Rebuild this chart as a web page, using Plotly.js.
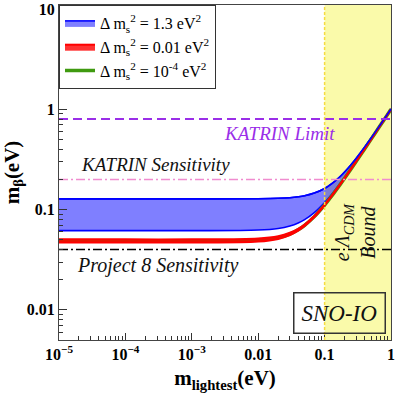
<!DOCTYPE html>
<html>
<head>
<meta charset="utf-8">
<script src="https://cdn.plot.ly/plotly-3.0.1.min.js"></script>
<style>
  html, body { margin: 0; padding: 0; background: #fff; }
  #chart { width: 399px; height: 399px; }
</style>
</head>
<body>
<div id="chart"></div>
<script>
// m_lightest (eV)
const mLightest = [1e-5, 1e-4, 1e-3, 0.01, 0.02, 0.03, 0.04, 0.05, 0.07, 0.1, 0.13, 0.17, 0.2, 0.25, 0.3, 0.4, 0.5, 0.6, 0.7, 0.85, 1];

// Δm²_s = 1.3 eV² band (upper / lower edge of m_β)
const bandBlueTop = [0.128, 0.128, 0.128, 0.1284, 0.1296, 0.1315, 0.1342, 0.1375, 0.1462, 0.1625, 0.1825, 0.2128, 0.2375, 0.2809, 0.3262, 0.42, 0.5161, 0.6135, 0.7116, 0.8596, 1.008];
const bandBlueLow = [0.0617, 0.0617, 0.0617, 0.0625, 0.0648, 0.0686, 0.0735, 0.0794, 0.0933, 0.1175, 0.1439, 0.1808, 0.2093, 0.2575, 0.3063, 0.4047, 0.5038, 0.6032, 0.7027, 0.8522, 1.0019];

// Δm²_s = 0.01 eV² band
const bandRedTop = [0.0505, 0.0505, 0.0505, 0.0515, 0.0543, 0.0587, 0.0644, 0.0711, 0.0863, 0.112, 0.1395, 0.1773, 0.2063, 0.2551, 0.3042, 0.4032, 0.5025, 0.6021, 0.7018, 0.8515, 1.0015];
const bandRedLow = [0.0469, 0.0469, 0.0469, 0.048, 0.051, 0.0557, 0.0616, 0.0686, 0.0843, 0.1105, 0.1382, 0.1764, 0.2054, 0.2544, 0.3036, 0.4027, 0.5022, 0.6018, 0.7016, 0.8513, 1.0011];

// Δm²_s = 1e-4 eV²
const lineGreen = [0.0487, 0.0487, 0.0487, 0.0497, 0.0525, 0.057, 0.0628, 0.0697, 0.0851, 0.1108, 0.1384, 0.1765, 0.2055, 0.2545, 0.3037, 0.4028, 0.5023, 0.6019, 0.7017, 0.8514, 1.0012];

// reference limits (eV)
const katrinLimit = 0.8;
const katrinSens = 0.2;
const project8Sens = 0.04;
const cosmoBound = [0.1, 1];
const xEnds = [1e-5, 1];

const xTickVals = [1e-5, 1e-4, 1e-3, 0.01, 0.1, 1];
const xTickText = ['10<sup>−5</sup>', '10<sup>−4</sup>', '10<sup>−3</sup>', '0.01', '0.1', '1'];
const yTickVals = [0.01, 0.1, 1, 10];
const yTickText = ['0.01', '0.1', '1', '10'];

const SERIF = 'Liberation Serif';
const lg = v => Math.log10(v);

const traces = [
  // blue band
  { x: mLightest, y: bandBlueLow, mode: 'lines', line: { color: '#0000ff', width: 1.6, shape: 'spline' },
    showlegend: false, hoverinfo: 'skip' },
  { x: mLightest, y: bandBlueTop, mode: 'lines', line: { color: '#0000ff', width: 1.6, shape: 'spline' },
    fill: 'tonexty', fillcolor: 'rgba(0,0,255,0.5)', legendrank: 1,
    name: 'Δ m<sub>s</sub><sup>2</sup> = 1.3 eV<sup>2</sup>', hoverinfo: 'skip' },
  // green, under the red band
  { x: mLightest, y: lineGreen, mode: 'lines', line: { color: '#3f9a10', width: 3.5, shape: 'spline' },
    name: 'Δ m<sub>s</sub><sup>2</sup> = 10<sup>-4</sup> eV<sup>2</sup>', legendrank: 3, hoverinfo: 'skip' },
  // red band
  { x: mLightest, y: bandRedLow, mode: 'lines', line: { color: '#ff0000', width: 2, shape: 'spline' },
    showlegend: false, hoverinfo: 'skip' },
  { x: mLightest, y: bandRedTop, mode: 'lines', line: { color: '#ff0000', width: 2, shape: 'spline' },
    fill: 'tonexty', fillcolor: 'rgba(255,0,0,0.8)', legendrank: 2,
    name: 'Δ m<sub>s</sub><sup>2</sup> = 0.01 eV<sup>2</sup>', hoverinfo: 'skip' },
  // blue upper edge again on top so it stays visible
  { x: mLightest, y: bandBlueTop, mode: 'lines', line: { color: '#0000ff', width: 1.6, shape: 'spline' },
    showlegend: false, hoverinfo: 'skip' },
  // limits
  { x: xEnds, y: [katrinLimit, katrinLimit], mode: 'lines', showlegend: false, hoverinfo: 'skip',
    line: { color: '#9a2ee8', width: 2, dash: '9px,5px' } },
  { x: xEnds, y: [katrinSens, katrinSens], mode: 'lines', showlegend: false, hoverinfo: 'skip',
    line: { color: '#f08ccf', width: 1.5, dash: '9px,3px,2px,3px' } },
  { x: xEnds, y: [project8Sens, project8Sens], mode: 'lines', showlegend: false, hoverinfo: 'skip',
    line: { color: '#000000', width: 1.5, dash: '9px,3px,2px,3px' } },
];

const layout = {
  width: 399,
  height: 399,
  paper_bgcolor: '#fff',
  plot_bgcolor: '#fff',
  font: { family: SERIF, size: 15, color: '#000' },
  margin: { l: 59, r: 8, t: 5, b: 59 },
  showlegend: true,
  legend: {
    x: 0, y: 1, xanchor: 'left', yanchor: 'top', traceorder: 'normal',
    bgcolor: '#fff', bordercolor: '#333', borderwidth: 1,
    font: { family: SERIF, size: 16 },
    tracegroupgap: 0, itemwidth: 30,
  },
  xaxis: {
    type: 'log', range: [-5, 0],
    tickmode: 'array', tickvals: xTickVals, ticktext: xTickText,
    tickfont: { family: SERIF, size: 16, weight: 'bold' },
    ticks: 'inside', ticklen: 7, tickcolor: '#333',
    minor: { ticks: 'inside', ticklen: 4, tickcolor: '#333', dtick: 'D1' },
    showline: true, linecolor: '#444', mirror: true, showgrid: false, zeroline: false,
    title: { text: '<b>m<sub>lightest</sub>(eV)</b>', font: { family: SERIF, size: 21 }, standoff: 8 },
  },
  yaxis: {
    type: 'log', range: [lg(0.005), lg(11)],
    tickmode: 'array', tickvals: yTickVals, ticktext: yTickText,
    tickfont: { family: SERIF, size: 16, weight: 'bold' },
    ticks: 'inside', ticklen: 8, tickcolor: '#333',
    minor: { ticks: 'inside', ticklen: 4, tickcolor: '#333', dtick: 'D1' },
    showline: true, linecolor: '#444', mirror: true, showgrid: false, zeroline: false,
    title: { text: '<b>m<sub>β</sub>(eV)</b>', font: { family: SERIF, size: 21 }, standoff: 4 },
  },
  shapes: [
    { type: 'rect', layer: 'below', xref: 'x', yref: 'paper',
      x0: cosmoBound[0], x1: cosmoBound[1], y0: 0, y1: 1,
      fillcolor: '#fafaaa', line: { width: 0 } },
    { type: 'line', layer: 'above', xref: 'x', yref: 'paper',
      x0: cosmoBound[0], x1: cosmoBound[0], y0: 0, y1: 1,
      line: { color: '#f5dc40', width: 1.5, dash: '3px,2px' } },
  ],
  annotations: [
    { x: lg(0.021), y: lg(0.575), text: 'KATRIN Limit', showarrow: false,
      font: { family: SERIF, size: 19, color: '#9a2ee8', style: 'italic' } },
    { x: lg(2.8e-4), y: lg(0.28), text: 'KATRIN Sensitivity', showarrow: false,
      font: { family: SERIF, size: 19, color: '#111', style: 'italic' } },
    { x: lg(3e-4), y: lg(0.0275), text: 'Project 8 Sensitivity', showarrow: false,
      font: { family: SERIF, size: 20, color: '#111', style: 'italic' } },
    { x: lg(0.29), y: lg(0.06), text: 'e Λ<sub>CDM</sub><br>Bound', showarrow: false,
      textangle: -90, font: { family: SERIF, size: 20, color: '#111', style: 'italic' } },
    { x: lg(0.17), y: lg(0.0093), text: 'SNO-IO', showarrow: false,
      font: { family: SERIF, size: 23, color: '#111', style: 'italic' },
      bgcolor: 'rgba(0,0,0,0)', bordercolor: '#333', borderwidth: 1.5, borderpad: 7 },
  ],
};

Plotly.newPlot('chart', traces, layout, { displayModeBar: false, staticPlot: true });
</script>
</body>
</html>
